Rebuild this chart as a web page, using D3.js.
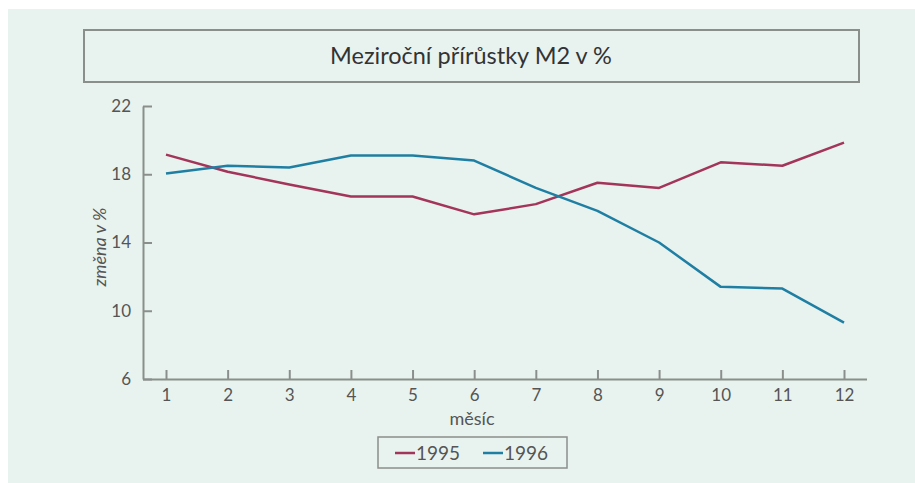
<!DOCTYPE html>
<html>
<head>
<meta charset="utf-8">
<script src="https://d3js.org/d3.v7.min.js"></script>
<style>
  body { margin: 0; background: #fff; }
  svg { display: block; }
  .tick text { font-family: Lato, "Open Sans", sans-serif; font-size: 17px; fill: #555; }
  .title { font-family: Lato, "Open Sans", sans-serif; font-size: 23.5px; fill: #333; }
  .lbl { font-family: Lato, "Open Sans", sans-serif; font-size: 18px; fill: #555; }
</style>
</head>
<body>
<div id="chart"></div>
<script>
var months = [1, 2, 3, 4, 5, 6, 7, 8, 9, 10, 11, 12];
var values1995 = [19.15, 18.15, 17.4, 16.7, 16.7, 15.65, 16.25, 17.5, 17.2, 18.7, 18.5, 19.85];
var values1996 = [18.05, 18.5, 18.4, 19.1, 19.1, 18.8, 17.2, 15.85, 14.0, 11.4, 11.3, 9.3];
var yTicks = [6, 10, 14, 18, 22];
var seriesNames = ["1995", "1996"];
var colors = ["#a3345a", "#1f7fa3"];

var width = 915, height = 483;

var svg = d3.select("#chart").append("svg")
  .attr("width", width)
  .attr("height", height);

// paper background
svg.append("rect")
  .attr("x", 8).attr("y", 9)
  .attr("width", width - 8).attr("height", height - 9)
  .attr("fill", "#e8f3ef");

// title box
svg.append("rect")
  .attr("x", 84).attr("y", 30)
  .attr("width", 775).attr("height", 52)
  .attr("fill", "none")
  .attr("stroke", "#8a8f8c")
  .attr("stroke-width", 2);

svg.append("text")
  .attr("class", "title")
  .attr("x", 471).attr("y", 64)
  .attr("text-anchor", "middle")
  .text("Meziroční přírůstky M2 v %");

var x = d3.scaleLinear().domain([1, 12]).range([166, 844]);
var y = d3.scaleLinear().domain([6, 22]).range([379, 106]);

// y axis
var yAxis = svg.append("g")
  .attr("transform", "translate(143,0)")
  .call(d3.axisRight(y).tickValues(yTicks).tickSize(9).tickSizeOuter(0));
yAxis.selectAll("text").attr("x", -12).attr("text-anchor", "end");

// x axis
var xAxis = svg.append("g")
  .attr("transform", "translate(0,379)")
  .call(d3.axisTop(x).tickValues(months).tickSize(9).tickSizeOuter(0));
xAxis.selectAll("text").attr("y", 10).attr("dy", "0.71em");
xAxis.select(".domain").attr("d", "M143,0.5H867");

svg.selectAll(".domain, .tick line")
  .attr("stroke", "#8a8f8c")
  .attr("stroke-width", 2);

svg.append("text")
  .attr("class", "lbl")
  .attr("transform", "translate(106,247) rotate(-90)")
  .attr("text-anchor", "middle")
  .style("font-style", "italic")
  .text("změna v %");

svg.append("text")
  .attr("class", "lbl")
  .attr("x", 472).attr("y", 425)
  .attr("text-anchor", "middle")
  .text("měsíc");

var line = d3.line()
  .x(function(d, i) { return x(months[i]); })
  .y(function(d) { return y(d); });

[values1995, values1996].forEach(function(vals, k) {
  svg.append("path")
    .datum(vals)
    .attr("fill", "none")
    .attr("stroke", colors[k])
    .attr("stroke-width", 2.5)
    .attr("stroke-linejoin", "round")
    .attr("d", line);
});

// legend
svg.append("rect")
  .attr("x", 378).attr("y", 437)
  .attr("width", 189).attr("height", 31)
  .attr("fill", "none")
  .attr("stroke", "#8a8f8c")
  .attr("stroke-width", 1.5);

var legendX = [395, 483];
seriesNames.forEach(function(name, k) {
  svg.append("line")
    .attr("x1", legendX[k]).attr("x2", legendX[k] + 20)
    .attr("y1", 453).attr("y2", 453)
    .attr("stroke", colors[k])
    .attr("stroke-width", 2.5);
  svg.append("text")
    .attr("class", "lbl")
    .attr("x", legendX[k] + 21).attr("y", 460)
    .style("font-size", "19px")
    .text(name);
});
</script>
</body>
</html>
